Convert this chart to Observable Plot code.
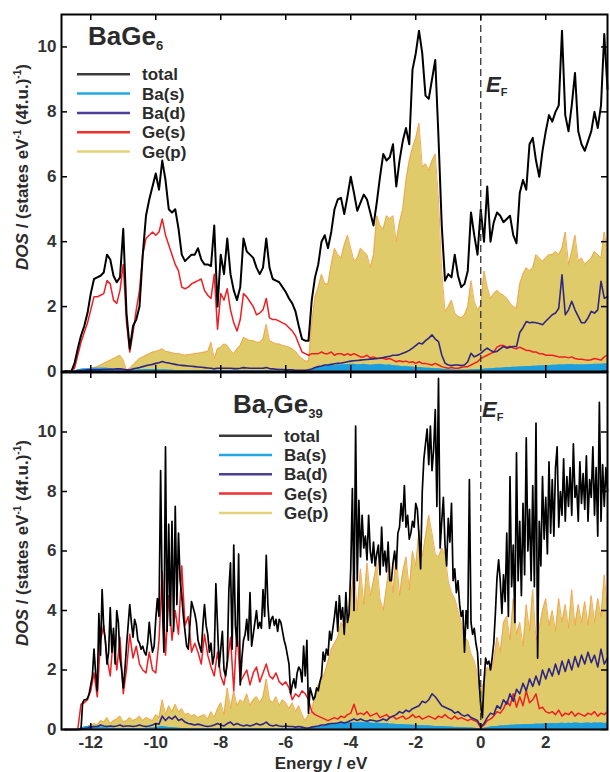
<!DOCTYPE html>
<html>
<head>
<meta charset="utf-8">
<script src="https://cdn.jsdelivr.net/npm/d3@7"></script>
<script src="https://cdn.jsdelivr.net/npm/@observablehq/plot@0.6"></script>
<style>
  html, body { margin: 0; padding: 0; background: #fff; }
  #page { position: relative; width: 610px; height: 772px; overflow: hidden; font-family: "Liberation Sans", Arial, sans-serif; }
  #page svg { position: absolute; left: 0; }
</style>
</head>
<body>
<div id="page"></div>
<script>
// ---------- sampling grids (eV) ----------
const energyCoarse = d3.range(168).map(i => Math.round((-12.8 + i * 0.1) * 100) / 100);   // -12.8 .. 3.9
const energyFine = d3.range(335).map(i => Math.round((-12.8 + i * 0.05) * 100) / 100);    // -12.8 .. 3.9

// ---------- BaGe6 (top panel), step 0.1 eV ----------
const totalTop = [
  0,0,0,0.25,0.7,1.1,1.4,1.8,2.4,2.85,
  2.9,2.95,3.05,3.6,3.45,2.95,2.75,2.9,4.4,1.8,
  0.7,1.4,1.6,2.0,3.6,4.8,5.3,5.7,6.1,5.6,
  6.5,5.9,5.0,4.9,5.0,4.4,3.6,3.4,3.5,3.6,
  3.6,3.8,3.45,3.3,3.3,3.25,4.5,2.0,3.6,3.0,
  4.1,3.0,2.5,2.2,2.6,4.1,3.7,3.6,3.5,3.2,
  3.0,3.2,4.1,3.2,2.85,2.8,2.75,2.6,2.45,2.25,
  2.1,1.85,1.4,1.0,0.95,0.95,2.2,2.9,3.3,4.0,
  4.2,3.8,4.3,5.0,5.3,5.35,4.85,5.4,6.0,5.5,
  4.95,5.2,5.45,5.3,4.9,4.5,5.2,6.0,6.7,6.5,
  6.6,7.0,5.7,6.5,7.1,7.5,7.0,9.3,9.8,10.5,
  9.8,8.5,8.4,9.0,9.6,7.2,4.5,2.8,3.0,2.9,
  3.6,2.95,2.6,2.7,3.1,4.9,4.2,3.6,5.0,4.0,
  5.7,4.0,4.6,4.9,4.8,4.6,4.7,4.8,4.2,3.95,
  5.5,5.9,5.6,7.0,7.2,6.5,6.0,6.8,7.4,7.9,
  7.7,8.0,8.2,10.5,7.9,7.4,8.2,9.2,7.4,7.0,
  6.8,7.1,7.4,8.0,7.5,8.2,10.4,8.7
];
const baSTop = [
  0,0,0,0.02,0.05,0.07,0.08,0.08,0.09,0.1,
  0.1,0.1,0.1,0.1,0.08,0.07,0.06,0.05,0.04,0.03,
  0.02,0.03,0.04,0.05,0.05,0.06,0.06,0.06,0.06,0.05,
  0.05,0.05,0.04,0.04,0.03,0.03,0.02,0.02,0.02,0.02,
  0.02,0.02,0.02,0.02,0.02,0.02,0.02,0.02,0.02,0.02,
  0.02,0.02,0.02,0.02,0.02,0.02,0.02,0.02,0.02,0.02,
  0.02,0.02,0.02,0.02,0.01,0.01,0.01,0.01,0.01,0.01,
  0.01,0.01,0.01,0.01,0.01,0.02,0.06,0.1,0.13,0.15,
  0.16,0.17,0.18,0.18,0.19,0.2,0.2,0.21,0.22,0.22,
  0.2,0.21,0.22,0.2,0.19,0.2,0.21,0.22,0.2,0.19,
  0.2,0.18,0.17,0.16,0.15,0.15,0.14,0.13,0.12,0.12,
  0.11,0.1,0.1,0.09,0.08,0.08,0.07,0.06,0.05,0.05,
  0.04,0.04,0.04,0.04,0.04,0.05,0.05,0.06,0.06,0.07,
  0.08,0.08,0.09,0.1,0.1,0.11,0.12,0.12,0.13,0.13,
  0.14,0.14,0.15,0.15,0.16,0.16,0.17,0.17,0.18,0.18,
  0.19,0.19,0.2,0.2,0.2,0.21,0.21,0.2,0.2,0.2,
  0.2,0.21,0.21,0.22,0.22,0.22,0.23,0.23
];
const baDTop = [
  0,0,0,0,0.02,0.03,0.04,0.05,0.05,0.05,
  0.05,0.05,0.06,0.06,0.07,0.07,0.08,0.08,0.07,0.05,
  0.05,0.08,0.1,0.12,0.15,0.18,0.2,0.22,0.25,0.27,
  0.31,0.28,0.26,0.24,0.22,0.2,0.19,0.18,0.17,0.16,
  0.15,0.14,0.13,0.12,0.11,0.1,0.08,0.1,0.1,0.1,
  0.1,0.1,0.09,0.09,0.1,0.12,0.11,0.1,0.1,0.1,
  0.1,0.1,0.12,0.09,0.08,0.07,0.06,0.06,0.05,0.05,
  0.05,0.04,0.04,0.04,0.04,0.05,0.08,0.12,0.15,0.17,
  0.2,0.2,0.22,0.24,0.25,0.26,0.28,0.3,0.32,0.33,
  0.34,0.35,0.36,0.37,0.38,0.39,0.4,0.41,0.43,0.45,
  0.47,0.5,0.5,0.52,0.56,0.6,0.65,0.72,0.8,0.88,
  0.85,0.95,1.03,1.13,1.0,0.92,0.51,0.26,0.2,0.18,
  0.2,0.2,0.18,0.2,0.3,0.56,0.45,0.5,0.56,0.65,
  0.72,0.65,0.6,0.62,0.7,0.77,0.72,0.75,0.77,0.77,
  1.2,1.35,1.54,1.5,1.52,1.5,1.48,1.44,1.55,1.65,
  1.75,1.8,1.95,2.98,1.75,1.9,2.16,1.9,1.7,1.5,
  1.5,1.65,1.85,1.8,1.9,2.78,2.26,2.3
];
const geSTop = [
  0,0,0,0.1,0.5,0.9,1.2,1.5,1.9,2.3,
  2.3,2.35,2.4,2.8,2.7,2.2,2.1,2.5,3.3,1.5,
  0.6,1.2,1.9,2.5,3.6,4.1,4.2,4.3,4.2,4.3,
  4.7,4.2,3.9,3.6,3.3,3.1,2.6,2.55,2.6,2.7,
  2.75,2.8,2.85,2.5,2.35,2.25,3.0,1.3,2.4,2.2,
  2.55,1.9,1.5,1.25,1.6,2.4,2.3,2.15,2.0,1.75,
  1.8,1.9,2.25,1.65,1.6,1.6,1.55,1.5,1.45,1.35,
  1.25,1.1,0.85,0.6,0.55,0.5,0.55,0.55,0.55,0.6,
  0.55,0.55,0.6,0.5,0.55,0.55,0.5,0.55,0.5,0.55,
  0.5,0.45,0.45,0.5,0.42,0.45,0.4,0.42,0.4,0.38,
  0.4,0.35,0.3,0.33,0.3,0.32,0.28,0.3,0.25,0.3,
  0.25,0.25,0.22,0.2,0.25,0.2,0.15,0.12,0.1,0.12,
  0.1,0.1,0.12,0.15,0.15,0.2,0.25,0.3,0.4,0.45,
  0.5,0.55,0.6,0.75,0.8,0.8,0.75,0.78,0.72,0.7,
  0.75,0.7,0.65,0.65,0.6,0.6,0.55,0.55,0.5,0.5,
  0.5,0.48,0.45,0.45,0.45,0.42,0.45,0.4,0.38,0.38,
  0.36,0.35,0.36,0.4,0.38,0.35,0.45,0.5
];
const gePTop = [
  0,0,0,0,0,0.02,0.05,0.08,0.1,0.12,
  0.15,0.2,0.25,0.3,0.35,0.4,0.45,0.5,0.35,0.05,
  0.1,0.2,0.3,0.4,0.45,0.5,0.55,0.6,0.62,0.65,
  0.7,0.62,0.6,0.58,0.55,0.55,0.52,0.5,0.52,0.53,
  0.55,0.56,0.58,0.6,0.62,0.9,0.4,0.7,0.75,0.85,
  0.8,0.65,0.55,0.7,0.8,1.05,1.0,0.95,0.95,0.9,
  0.9,1.0,1.45,0.95,0.9,0.85,0.85,0.8,0.78,0.75,
  0.7,0.62,0.5,0.4,0.32,0.32,1.5,2.3,2.6,3.0,
  2.7,2.7,3.3,3.8,3.6,3.5,3.9,4.2,3.8,3.4,
  3.5,3.8,3.7,3.6,3.2,3.6,4.8,4.5,4.4,4.8,
  4.7,4.8,4.0,4.6,5.0,5.9,6.5,6.9,7.2,7.65,
  6.3,6.4,6.2,6.5,6.7,5.3,3.1,1.85,2.0,2.2,
  1.8,1.7,1.65,1.75,2.0,2.8,2.16,1.9,2.05,3.1,
  2.6,2.25,2.4,2.5,2.4,2.35,2.26,2.1,2.0,1.95,
  2.7,3.0,3.2,3.1,3.2,3.6,3.5,3.4,3.5,3.6,
  3.6,3.7,3.6,3.8,4.3,3.3,3.7,4.2,3.4,3.5,
  3.3,3.4,3.5,3.7,3.6,3.5,4.3,3.7
];

// ---------- Ba7Ge39 (bottom panel) ----------
// total: step 0.05 eV
const totalBot = [
  0,0,0,0,0,0,0,0,0,0, 0,0.9,1.0,1.0,1.05,1.2,1.5,1.8,2.7,1.9,
  1.3,3.9,2.5,4.7,3.4,3.0,2.2,2.6,4.1,2.6, 3.4,2.2,4.0,3.6,2.4,2.0,1.4,2.0,2.8,3.5,
  4.2,3.6,3.1,3.7,3.5,3.0,2.9,2.7,2.8,2.6, 2.5,2.9,3.6,3.0,2.6,2.8,3.7,4.4,3.8,8.7,
  4.3,2.6,9.5,3.3,6.9,3.5,7.0,3.3,7.5,4.2, 6.6,5.0,4.5,3.8,3.3,2.8,2.7,3.5,4.3,4.1,
  3.9,3.6,3.0,2.8,2.6,3.5,4.2,3.5,3.2,2.6, 2.9,2.2,2.5,4.9,3.5,2.1,2.7,3.3,2.0,1.8,
  2.3,4.7,5.6,2.7,6.2,3.5,2.8,5.9,1.5,2.4, 3.0,3.2,3.7,3.0,4.6,2.8,3.2,3.6,4.0,3.4,
  3.6,3.4,4.7,3.8,5.85,4.2,3.4,3.7,3.8,3.5, 3.7,3.3,3.7,3.6,3.3,3.0,2.8,2.5,2.2,1.2,
  1.5,1.7,1.4,1.9,2.1,2.0,1.6,2.8,1.8,3.0, 0.55,1.4,1.2,1.0,1.1,1.4,1.3,1.6,1.8,2.6,
  2.3,2.7,2.5,3.3,3.0,3.4,3.8,4.3,3.3,4.5, 3.7,4.1,3.2,4.6,3.6,3.9,5.4,8.1,4.0,10.2,
  5.0,7.7,5.8,7.2,6.1,6.5,5.7,7.2,6.0,5.6, 6.3,5.5,5.9,6.2,5.2,6.8,5.5,6.0,5.3,6.3,
  5.0,5.0,5.6,6.0,5.4,6.6,6.8,7.6,7.0,8.2, 6.8,7.2,6.4,6.6,7.0,6.8,7.6,7.4,6.5,5.4,
  8.0,9.1,9.6,10.1,8.9,10.2,8.7,9.4,10.75,7.5, 11.8,6.1,7.0,7.8,6.2,5.5,7.1,6.3,7.6,5.0,
  5.4,4.6,5.0,4.2,3.8,4.0,2.6,4.0,3.4,8.4, 3.6,3.2,3.4,2.9,2.6,1.6,0.8,0.4,1.6,2.4,
  2.2,2.3,2.0,2.4,2.9,3.9,5.1,5.7,5.0,3.9, 5.2,4.3,6.6,3.8,8.5,4.8,6.2,3.6,9.3,5.0,
  7.0,4.5,7.6,5.2,9.8,6.0,7.4,5.0,8.2,4.8, 10.3,2.4,7.0,5.5,8.5,6.4,7.8,5.9,9.0,6.6,
  8.4,6.5,8.8,9.5,6.8,8.0,7.2,9.1,7.0,8.5, 7.5,8.8,7.2,9.6,7.8,8.2,7.0,9.0,7.6,8.6,
  7.4,9.2,7.0,8.4,7.8,9.5,7.2,8.8,6.5,11.0, 7.0,8.9,7.5,8.8,8.0
];
// partial DOS: step 0.1 eV
const baSBot = [
  0,0,0,0,0,0.05,0.08,0.1,0.12,0.1,
  0.1,0.08,0.06,0.05,0.04,0.04,0.03,0.03,0.03,0.03,
  0.03,0.03,0.03,0.03,0.03,0.04,0.04,0.05,0.06,0.08,
  0.1,0.08,0.07,0.06,0.05,0.04,0.03,0.03,0.02,0.02,
  0.02,0.02,0.02,0.02,0.02,0.02,0.02,0.02,0.02,0.02,
  0.02,0.02,0.02,0.02,0.02,0.02,0.02,0.02,0.02,0.02,
  0.02,0.02,0.02,0.02,0.02,0.02,0.02,0.02,0.02,0.02,
  0.02,0.02,0.02,0.02,0.01,0.02,0.04,0.06,0.08,0.1,
  0.12,0.14,0.15,0.16,0.18,0.2,0.2,0.22,0.22,0.24,
  0.22,0.24,0.22,0.23,0.22,0.2,0.22,0.2,0.2,0.2,
  0.18,0.18,0.17,0.16,0.16,0.15,0.15,0.14,0.14,0.13,
  0.13,0.12,0.12,0.11,0.1,0.1,0.1,0.09,0.08,0.08,
  0.07,0.07,0.06,0.06,0.05,0.05,0.04,0.03,0.02,0.04,
  0.06,0.08,0.1,0.1,0.12,0.12,0.13,0.14,0.14,0.15,
  0.15,0.16,0.16,0.17,0.17,0.18,0.18,0.18,0.19,0.19,
  0.2,0.19,0.2,0.21,0.2,0.21,0.2,0.22,0.21,0.2,
  0.21,0.22,0.2,0.22,0.21,0.22,0.2,0.22
];
const baDBot = [
  0,0,0,0,0,0.02,0.03,0.05,0.08,0.1,
  0.1,0.15,0.12,0.1,0.12,0.1,0.12,0.15,0.1,0.12,
  0.12,0.1,0.12,0.15,0.12,0.1,0.12,0.15,0.2,0.18,
  0.45,0.3,0.42,0.35,0.45,0.3,0.35,0.25,0.2,0.18,
  0.15,0.18,0.15,0.12,0.1,0.12,0.15,0.2,0.15,0.12,
  0.2,0.25,0.15,0.2,0.15,0.12,0.15,0.12,0.15,0.2,
  0.15,0.18,0.25,0.15,0.12,0.15,0.12,0.1,0.12,0.1,
  0.1,0.08,0.1,0.08,0.05,0.05,0.08,0.1,0.12,0.15,
  0.15,0.18,0.2,0.2,0.22,0.25,0.22,0.25,0.3,0.35,
  0.3,0.35,0.3,0.28,0.32,0.3,0.28,0.3,0.35,0.3,
  0.4,0.45,0.5,0.6,0.55,0.65,0.6,0.7,0.75,0.8,
  0.95,0.9,1.0,1.2,1.1,0.95,0.8,0.75,0.7,0.65,
  0.55,0.6,0.5,0.45,0.5,0.4,0.35,0.3,0.1,0.2,
  0.4,0.55,0.5,0.8,0.7,1.0,0.85,1.2,0.95,1.35,
  1.2,1.55,1.3,1.7,1.45,1.8,1.5,2.0,1.7,2.05,
  1.8,2.2,1.85,2.3,1.95,2.35,2.0,2.45,2.1,2.5,
  2.2,2.6,2.25,2.5,2.1,2.7,2.2,2.4
];
const geSBot = [
  0,0,0,0,0,0.85,0.9,1.0,1.3,1.9,
  1.1,3.0,3.5,2.4,1.8,3.2,2.0,3.1,1.2,2.0,
  3.2,2.4,2.8,2.2,2.0,1.9,2.6,2.0,1.9,3.0,
  5.3,2.5,4.5,3.0,4.0,3.2,5.5,3.5,3.8,2.6,
  2.9,2.6,2.2,3.2,2.5,2.1,1.8,2.6,1.8,1.5,
  2.2,3.1,1.3,3.4,1.6,1.8,2.0,1.5,1.9,2.1,
  1.6,1.9,2.2,1.8,1.7,1.9,1.6,1.5,1.6,1.4,
  1.0,1.2,1.1,1.3,1.2,1.0,0.6,0.5,0.45,0.4,
  0.35,0.3,0.35,0.4,0.35,0.45,0.4,0.5,0.55,0.85,
  0.5,0.55,0.5,0.6,0.45,0.5,0.55,0.4,0.45,0.5,
  0.4,0.45,0.35,0.4,0.45,0.35,0.4,0.5,0.4,0.45,
  0.35,0.4,0.45,0.4,0.35,0.45,0.4,0.5,0.4,0.35,
  0.45,0.35,0.4,0.35,0.3,0.35,0.3,0.25,0.05,0.15,
  0.3,0.35,0.45,0.6,0.55,0.7,0.95,0.8,1.2,0.75,
  1.1,0.8,1.3,0.9,1.0,1.2,0.7,0.75,0.6,0.55,
  0.6,0.5,0.65,0.45,0.55,0.5,0.6,0.45,0.55,0.5,
  0.45,0.55,0.5,0.6,0.45,0.55,0.5,0.6
];
const gePBot = [
  0,0,0,0,0,0.05,0.08,0.1,0.15,0.2,
  0.15,0.3,0.25,0.4,0.2,0.3,0.35,0.45,0.25,0.3,
  0.4,0.3,0.35,0.45,0.3,0.4,0.35,0.3,0.5,0.4,
  1.0,0.5,0.8,0.6,0.85,0.6,0.7,0.5,0.55,0.45,
  0.5,0.4,0.45,0.5,0.35,0.6,0.4,0.7,0.9,0.5,
  1.4,0.7,1.3,0.8,1.0,0.9,1.2,0.8,1.0,1.1,
  0.9,1.1,1.7,1.0,0.9,1.1,0.8,1.0,0.9,0.7,
  0.9,0.6,0.8,0.5,0.3,0.5,0.6,1.2,1.5,1.7,
  1.9,2.3,2.7,2.9,3.1,3.6,3.4,3.9,4.4,5.4,
  4.0,5.4,4.2,5.6,4.5,5.0,5.6,4.4,4.0,4.8,
  5.6,4.6,5.9,4.5,5.3,5.8,4.7,6.0,5.5,6.7,
  5.8,6.5,7.2,6.6,5.9,5.8,6.1,5.9,5.0,4.6,
  4.4,4.0,3.6,3.1,3.0,2.55,2.3,1.85,1.3,1.6,
  2.1,2.0,2.3,3.1,2.6,3.6,3.8,3.0,4.4,3.2,
  3.6,2.8,4.2,3.3,4.7,3.0,3.4,4.0,4.4,3.5,
  4.0,3.3,4.4,3.6,4.2,3.4,4.7,3.5,4.2,3.6,
  4.3,3.5,4.5,3.6,4.4,3.8,5.2,4.0
];

// ---------- axis ticks & texts ----------
const xTicks = [-12, -10, -8, -6, -4, -2, 0, 2];
const yTicks = [0, 2, 4, 6, 8, 10];
const legendLabels = ["total", "Ba(s)", "Ba(d)", "Ge(s)", "Ge(p)"];
const legendColors = ["#3a3a3a", "#22a8e4", "#4b3f98", "#f03030", "#e6d27c"];
const titleTop = [{t: "BaGe"}, {t: "6", sub: true}];
const titleBot = [{t: "Ba"}, {t: "7", sub: true}, {t: "Ge"}, {t: "39", sub: true}];
const xLabel = "Energy / eV";

// ---------- build ----------
const toRows = (E, vals) => vals.map((v, i) => ({E: E[i], v}));
const page = document.getElementById("page");
const W = 610, mL = 61, mR = 3;
const FONT = "'Liberation Sans', Arial, Helvetica, sans-serif";

function panel({height, mt, mb, yMax, total, totalE, totalWidth, baS, baD, geS, geP, showX}) {
  const pw = W - mL - mR, ph = height - mt - mb;
  const T = toRows(totalE, total), BS = toRows(energyCoarse, baS), BD = toRows(energyCoarse, baD),
        GS = toRows(energyCoarse, geS), GP = toRows(energyCoarse, geP);
  const tickStyle = {stroke: "#000", strokeWidth: 1.5};
  const marks = [
    Plot.areaY(GP, {x: "E", y: "v", fill: "#dfcb6a"}),
    Plot.lineY(GP, {x: "E", y: "v", stroke: "#f6a04a", strokeWidth: 0.9}),
    Plot.areaY(BS, {x: "E", y: "v", fill: "#1c9fdc"}),
    Plot.lineY(BS, {x: "E", y: "v", stroke: "#1c9fdc", strokeWidth: 1}),
    Plot.lineY(GS, {x: "E", y: "v", stroke: "#f01e23", strokeWidth: 1.5}),
    Plot.lineY(BD, {x: "E", y: "v", stroke: "#2e2585", strokeWidth: 1.6}),
    Plot.lineY(T, {x: "E", y: "v", stroke: "#000", strokeWidth: totalWidth}),
    Plot.ruleX([0], {stroke: "#333", strokeWidth: 1.3, strokeDasharray: "7,4"}),
    Plot.tickY(yTicks, {y: d => d, insetRight: pw - 6, ...tickStyle}),
    Plot.tickY(yTicks, {y: d => d, insetLeft: pw - 6, ...tickStyle}),
    Plot.tickX(xTicks, {x: d => d, insetTop: ph - 6, ...tickStyle}),
    Plot.tickX(xTicks, {x: d => d, insetBottom: ph - 6, ...tickStyle}),
    Plot.axisY(yTicks, {tickSize: 0, tickPadding: 5, label: null, tickFormat: d => String(d),
      fontSize: 17, fontWeight: "bold", fill: "#333", fontFamily: FONT}),
    Plot.frame({stroke: "#000", strokeWidth: 2})
  ];
  if (showX) marks.push(Plot.axisX(xTicks, {tickSize: 0, tickPadding: 6, label: null, tickFormat: d => String(d),
      fontSize: 17, fontWeight: "bold", fill: "#333", fontFamily: FONT}));
  return Plot.plot({
    width: W, height, marginTop: mt, marginBottom: mb, marginLeft: mL, marginRight: mR,
    x: {domain: [-12.9, 3.9], axis: showX ? undefined : null},
    y: {domain: [0, yMax]},
    style: {fontFamily: FONT, background: "transparent", overflow: "visible"},
    marks
  });
}

const topSvg = panel({height: 373, mt: 14, mb: 2, yMax: 11, total: totalTop, totalE: energyCoarse, totalWidth: 2,
  baS: baSTop, baD: baDTop, geS: geSTop, geP: gePTop, showX: false});
topSvg.style.top = "0px";
page.appendChild(topSvg);

const botSvg = panel({height: 401, mt: 1, mb: 43, yMax: 12, total: totalBot, totalE: energyFine, totalWidth: 1.7,
  baS: baSBot, baD: baDBot, geS: geSBot, geP: gePBot, showX: true});
botSvg.style.top = "371px";
page.appendChild(botSvg);

// ---------- overlay texts ----------
const ov = d3.select(page).append("svg")
  .attr("width", 610).attr("height", 772).style("top", "0px")
  .attr("font-family", FONT).attr("font-weight", "bold").attr("fill", "#2b2b2b");

function rich(parent, x, y, parts, size, anchor = "start") {
  const t = parent.append("text").attr("x", x).attr("y", y).attr("font-size", size).attr("text-anchor", anchor);
  let shift = 0;
  for (const p of parts) {
    const target = p.dy || 0;
    const ts = t.append("tspan").text(p.t).attr("dy", target - shift);
    shift = target;
    if (p.size) ts.attr("font-size", p.size);
    if (p.italic) ts.attr("font-style", "italic");
  }
  return t;
}

rich(ov, 88, 45, titleTop.map(p => p.sub ? {t: p.t, size: 13, dy: 5} : {t: p.t}), 26);
rich(ov, 233, 413, titleBot.map(p => p.sub ? {t: p.t, size: 13, dy: 5} : {t: p.t}), 26);

rich(ov, 486, 92, [{t: "E", italic: true}, {t: "F", size: 11, dy: 4}], 22);
rich(ov, 482, 417, [{t: "E", italic: true}, {t: "F", size: 11, dy: 4}], 22);

function legend(x0, y0) {
  legendLabels.forEach((lab, i) => {
    const y = y0 + i * 19.3;
    ov.append("line").attr("x1", x0).attr("x2", x0 + 53).attr("y1", y).attr("y2", y)
      .attr("stroke", legendColors[i]).attr("stroke-width", 2.5);
    ov.append("text").attr("x", x0 + 65).attr("y", y + 6).attr("font-size", 17).text(lab);
  });
}
legend(77, 74.3);
legend(219, 435.7);

const yLabelParts = [{t: "DOS", italic: true}, {t: " / (states eV"}, {t: "-1", size: 10, dy: -7},
  {t: " (4f.u.)"}, {t: "-1", size: 10, dy: -7}, {t: ")"}];
[167, 543].forEach(cy => {
  const g = ov.append("g").attr("transform", `translate(28,${cy}) rotate(-90)`);
  rich(g, 0, 0, yLabelParts, 17, "middle");
});

ov.append("text").attr("x", 321).attr("y", 769).attr("font-size", 17).attr("text-anchor", "middle").text(xLabel);
</script>
</body>
</html>
